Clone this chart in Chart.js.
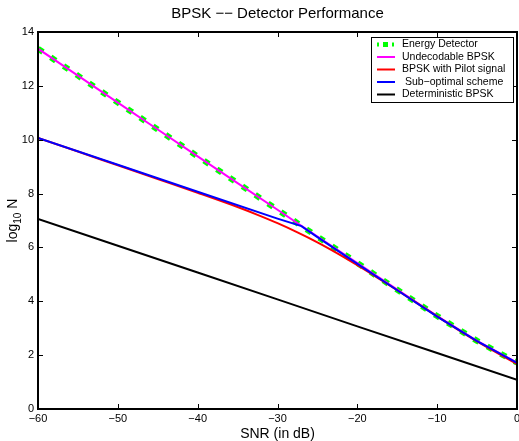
<!DOCTYPE html>
<html>
<head>
<meta charset="utf-8">
<script src="https://cdn.jsdelivr.net/npm/chart.js@4.4.0/dist/chart.umd.min.js"></script>
<style>
  body { margin: 0; background: #fff; }
  canvas { display: block; }
</style>
</head>
<body>
<canvas id="myChart" width="519" height="441"></canvas>
<script>
// values (log10 N vs SNR in dB)
const snrDb = [-60, -55, -50, -45, -40, -35, -30, -25, -20, -15, -10, -5, 0];
const energyDetector = [13.38, 12.38, 11.38, 10.38, 9.38, 8.39, 7.40, 6.40, 5.42, 4.43, 3.45, 2.53, 1.72];
const undecodable = [13.38, 12.38, 11.38, 10.38, 9.38, 8.39, 7.40, 6.40, 5.42, 4.43, 3.45, 2.53, 1.72];

const pilotSnr = [-60, -55, -50, -45, -40, -35, -32.5, -30, -27.5, -25, -22.5, -20, -17.5, -15, -10, -5, 0];
const pilotVals = [10.07, 9.56, 9.05, 8.54, 8.03, 7.50, 7.21, 6.90, 6.56, 6.19, 5.78, 5.34, 4.88, 4.41, 3.44, 2.51, 1.67];

const subOptSnr = [-60, -50, -40, -30, -27, -25, -20, -15, -10, -5, 0];
const subOptVals = [10.07, 9.07, 8.07, 7.07, 6.79, 6.38, 5.39, 4.41, 3.43, 2.52, 1.71];

const detSnr = [-60, -50, -40, -30, -20, -10, 0];
const detVals = [7.06, 6.06, 5.07, 4.07, 3.07, 2.08, 1.08];

const xTicks = [-60, -50, -40, -30, -20, -10, 0];
const yTicks = [0, 2, 4, 6, 8, 10, 12, 14];

const legendNames = ["Energy Detector", "Undecodable BPSK", "BPSK with Pilot signal", " Sub\u2212optimal scheme", "Deterministic BPSK"];
const legendColors = ["#00ff00", "#ff00ff", "#ff0000", "#0000ff", "#000000"];

function pts(xs, ys) {
  return xs.map((x, i) => ({ x: x, y: ys[i] }));
}
function minus(v) {
  return String(v).replace("-", "\u2212");
}

const FONT = "Liberation Sans, Arial, Helvetica, sans-serif";

const matlabAxes = {
  id: "matlabAxes",
  afterDraw(chart) {
    const ctx = chart.ctx;
    const a = chart.chartArea;
    const xs = chart.scales.x, ys = chart.scales.y;
    ctx.save();

    // box and inward ticks on all sides
    ctx.strokeStyle = "#000";
    ctx.lineWidth = 1;
    xTicks.forEach((t) => {
      const px = Math.round(xs.getPixelForValue(t)) + 0.5;
      ctx.beginPath();
      ctx.moveTo(px, a.bottom); ctx.lineTo(px, a.bottom - 5);
      ctx.moveTo(px, a.top); ctx.lineTo(px, a.top + 5);
      ctx.stroke();
    });
    yTicks.forEach((t) => {
      const py = Math.round(ys.getPixelForValue(t)) + 0.5;
      ctx.beginPath();
      ctx.moveTo(a.left, py); ctx.lineTo(a.left + 5, py);
      ctx.moveTo(a.right, py); ctx.lineTo(a.right - 5, py);
      ctx.stroke();
    });
    ctx.lineWidth = 2;
    ctx.strokeRect(a.left, a.top, a.right - a.left, a.bottom - a.top);

    // legend box
    const lx = 371, ly = 37, lw = 142, lh = 65;
    ctx.fillStyle = "#fff";
    ctx.fillRect(lx, ly, lw, lh);
    ctx.lineWidth = 1;
    ctx.strokeRect(lx + 0.5, ly + 0.5, lw, lh);
    ctx.font = "10.5px " + FONT;
    ctx.textBaseline = "middle";
    ctx.textAlign = "left";
    legendNames.forEach((name, i) => {
      const cy = ly + 7.5 + i * 12.5;
      if (i === 0) {
        ctx.fillStyle = legendColors[0];
        ctx.fillRect(377, cy - 2, 2, 4);
        ctx.fillRect(383, cy - 2.5, 5, 5);
        ctx.fillRect(392, cy - 2, 2, 4);
      } else {
        ctx.strokeStyle = legendColors[i];
        ctx.lineWidth = 2;
        ctx.beginPath();
        ctx.moveTo(377, cy); ctx.lineTo(395, cy);
        ctx.stroke();
      }
      ctx.fillStyle = "#000";
      ctx.fillText(name, 402, cy);
    });

    // title and axis labels
    const cx = (a.left + a.right) / 2;
    ctx.fillStyle = "#000";
    ctx.textAlign = "center";
    ctx.textBaseline = "alphabetic";
    ctx.font = "15px " + FONT;
    ctx.fillText("BPSK \u2212\u2212 Detector Performance", cx, 18);
    ctx.font = "14px " + FONT;
    ctx.fillText("SNR (in dB)", cx, 438);

    // y label with subscript
    ctx.translate(17, (a.top + a.bottom) / 2);
    ctx.rotate(-Math.PI / 2);
    ctx.font = "14px " + FONT;
    const w1 = ctx.measureText("log").width;
    ctx.font = "10px " + FONT;
    const w2 = ctx.measureText("10").width;
    ctx.font = "14px " + FONT;
    const w3 = ctx.measureText(" N").width;
    let x0 = -(w1 + w2 + w3) / 2;
    ctx.textAlign = "left";
    ctx.fillText("log", x0, 0);
    ctx.font = "10px " + FONT;
    ctx.fillText("10", x0 + w1, 4);
    ctx.font = "14px " + FONT;
    ctx.fillText(" N", x0 + w1 + w2, 0);
    ctx.restore();
  }
};

new Chart(document.getElementById("myChart"), {
  type: "line",
  data: {
    datasets: [
      {
        label: legendNames[0],
        data: pts(snrDb, energyDetector),
        borderColor: legendColors[0],
        borderWidth: 6,
        borderDash: [6, 9.4],
        order: 5,
      },
      {
        label: legendNames[1],
        data: pts(snrDb, undecodable),
        borderColor: legendColors[1],
        borderWidth: 2,
        order: 4,
      },
      {
        label: legendNames[2],
        data: pts(pilotSnr, pilotVals),
        borderColor: legendColors[2],
        borderWidth: 2,
        cubicInterpolationMode: "monotone",
        order: 3,
      },
      {
        label: legendNames[3],
        data: pts(subOptSnr, subOptVals),
        borderColor: legendColors[3],
        borderWidth: 2,
        order: 2,
      },
      {
        label: legendNames[4],
        data: pts(detSnr, detVals),
        borderColor: legendColors[4],
        borderWidth: 2,
        order: 1,
      },
    ],
  },
  options: {
    responsive: false,
    animation: false,
    layout: { padding: { left: 0, right: 2, top: 32, bottom: 0 } },
    elements: { point: { radius: 0 }, line: { tension: 0 } },
    plugins: { legend: { display: false }, tooltip: { enabled: false } },
    scales: {
      x: {
        type: "linear",
        min: -60,
        max: 0,
        grid: { display: false, drawTicks: false },
        border: { display: false },
        ticks: {
          stepSize: 10,
          autoSkip: false,
          maxRotation: 0,
          padding: 3,
          color: "#000",
          font: { family: FONT, size: 11 },
          callback: (v) => minus(v),
        },
        afterFit(s) { s.height = 32; s.paddingLeft = 0; s.paddingRight = 0; },
      },
      y: {
        min: 0,
        max: 14,
        grid: { display: false, drawTicks: false },
        border: { display: false },
        ticks: {
          stepSize: 2,
          padding: 4,
          color: "#000",
          font: { family: FONT, size: 11 },
          callback: (v) => minus(v),
        },
        afterFit(s) { s.width = 38; s.paddingTop = 0; s.paddingBottom = 0; },
      },
    },
  },
  plugins: [matlabAxes],
});
</script>
</body>
</html>
